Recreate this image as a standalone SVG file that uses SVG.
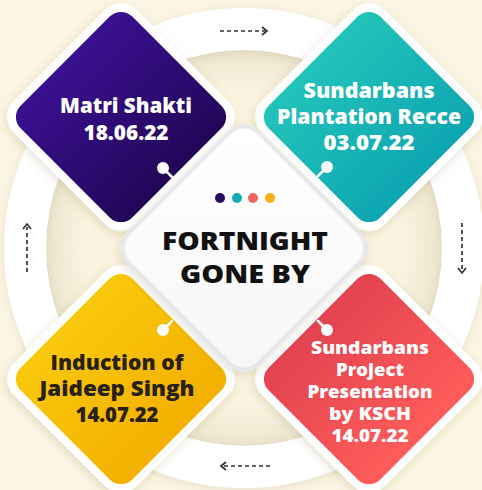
<svg xmlns="http://www.w3.org/2000/svg" width="482" height="490" viewBox="0 0 482 490">
  <defs>
    <filter id="sh" x="-20%" y="-20%" width="140%" height="140%">
      <feDropShadow dx="1" dy="3" stdDeviation="4" flood-color="#6b5a30" flood-opacity="0.18"/>
    </filter>
    <filter id="rs" x="-10%" y="-10%" width="120%" height="120%">
      <feDropShadow dx="0" dy="2" stdDeviation="4" flood-color="#8a7a50" flood-opacity="0.18"/>
    </filter>
    <radialGradient id="inner" cx="0.5" cy="0.5" r="0.5">
      <stop offset="0.8" stop-color="#faf3df"/>
      <stop offset="1" stop-color="#ece5cf"/>
    </radialGradient>
    <linearGradient id="gP" x1="0" y1="0" x2="1" y2="0">
      <stop offset="0" stop-color="#3a1090"/>
      <stop offset="1" stop-color="#220658"/>
    </linearGradient>
    <linearGradient id="gT" x1="0" y1="0" x2="1" y2="0">
      <stop offset="0" stop-color="#22c3b9"/>
      <stop offset="1" stop-color="#0ea6b2"/>
    </linearGradient>
    <linearGradient id="gY" x1="0" y1="0" x2="1" y2="0">
      <stop offset="0" stop-color="#fac80a"/>
      <stop offset="1" stop-color="#f3b000"/>
    </linearGradient>
    <linearGradient id="gR" x1="0" y1="0" x2="1" y2="0">
      <stop offset="0" stop-color="#e24350"/>
      <stop offset="1" stop-color="#ff5c5a"/>
    </linearGradient>
    <linearGradient id="gC" x1="0" y1="0" x2="1" y2="1">
      <stop offset="0" stop-color="#ffffff"/>
      <stop offset="1" stop-color="#f6f6f6"/>
    </linearGradient>
  </defs>
  <style>
    .t { font-family: "Open Sans", "Liberation Sans", sans-serif; font-weight: 800; text-anchor: middle; }
    .w { fill: #ffffff; }
    .d { fill: #2a2116; }
    .c { fill: #111111; }
    .border { fill: #ffffff; filter: url(#sh); }
    .dot { fill: #ffffff; }
    .stem { stroke: #ffffff; stroke-width: 2.5; stroke-linecap: round; }
    .arr { fill: none; stroke: #333333; stroke-width: 1.7; }
    .dash { stroke-dasharray: 4 3; }
  </style>

  <rect width="482" height="490" fill="#fbf5e3"/>
  <circle cx="244" cy="248" r="198" fill="url(#inner)"/>
  <circle cx="244" cy="248" r="219" fill="none" stroke="#ffffff" stroke-width="42" filter="url(#rs)"/>

  <g id="connectors">
    <path class="arr dash" d="M220,31 H265"/>
    <polyline class="arr" points="262,27 267,31 262,35"/>
    <path class="arr dash" d="M462,223 V270"/>
    <polyline class="arr" points="458,268 462,273 466,268"/>
    <path class="arr dash" d="M270,466 H223"/>
    <polyline class="arr" points="226,462 221,466 226,470"/>
    <path class="arr dash" d="M27,272 V227"/>
    <polyline class="arr" points="23,229 27,224 31,229"/>
  </g>

  <g id="node-matri">
    <rect class="border" x="34" y="30" width="174" height="174" rx="22" transform="rotate(45 121 117)"/>
    <rect x="42" y="38" width="158" height="158" rx="16" fill="url(#gP)" transform="rotate(45 121 117)"/>
    <text class="t w" x="126" y="113" font-size="21" textLength="132" lengthAdjust="spacingAndGlyphs">Matri Shakti</text>
    <text class="t w" x="126" y="140" font-size="21" textLength="85" lengthAdjust="spacingAndGlyphs">18.06.22</text>
    <line class="stem" x1="163" y1="168" x2="172" y2="177"/>
    <circle class="dot" cx="163" cy="168" r="6"/>
  </g>

  <g id="node-recce">
    <rect class="border" x="282" y="30" width="174" height="174" rx="22" transform="rotate(45 369 117)"/>
    <rect x="290" y="38" width="158" height="158" rx="16" fill="url(#gT)" transform="rotate(45 369 117)"/>
    <text class="t w" x="369" y="98" font-size="21" textLength="131" lengthAdjust="spacingAndGlyphs">Sundarbans</text>
    <text class="t w" x="369" y="124" font-size="21" textLength="184" lengthAdjust="spacingAndGlyphs">Plantation Recce</text>
    <text class="t w" x="369" y="150" font-size="21" textLength="91" lengthAdjust="spacingAndGlyphs">03.07.22</text>
    <line class="stem" x1="327" y1="167" x2="318" y2="176"/>
    <circle class="dot" cx="327" cy="167" r="6"/>
  </g>

  <g id="node-induction">
    <rect class="border" x="34" y="292" width="174" height="174" rx="22" transform="rotate(45 121 379)"/>
    <rect x="42" y="300" width="158" height="158" rx="16" fill="url(#gY)" transform="rotate(45 121 379)"/>
    <text class="t d" x="117" y="370" font-size="21" textLength="133" lengthAdjust="spacingAndGlyphs">Induction of</text>
    <text class="t d" x="117" y="396" font-size="21" textLength="155" lengthAdjust="spacingAndGlyphs">Jaideep Singh</text>
    <text class="t d" x="117" y="422" font-size="21" textLength="83" lengthAdjust="spacingAndGlyphs">14.07.22</text>
    <line class="stem" x1="163" y1="330" x2="172" y2="321"/>
    <circle class="dot" cx="163" cy="330" r="6"/>
  </g>

  <g id="node-presentation">
    <rect class="border" x="282" y="292" width="174" height="174" rx="22" transform="rotate(45 369 379)"/>
    <rect x="290" y="300" width="158" height="158" rx="16" fill="url(#gR)" transform="rotate(45 369 379)"/>
    <text class="t w" x="370" y="354" font-size="18" textLength="118" lengthAdjust="spacingAndGlyphs">Sundarbans</text>
    <text class="t w" x="370" y="376" font-size="18" textLength="68" lengthAdjust="spacingAndGlyphs">Project</text>
    <text class="t w" x="370" y="398" font-size="18" textLength="125" lengthAdjust="spacingAndGlyphs">Presentation</text>
    <text class="t w" x="370" y="420" font-size="18" textLength="82" lengthAdjust="spacingAndGlyphs">by KSCH</text>
    <text class="t w" x="370" y="442" font-size="18" textLength="77" lengthAdjust="spacingAndGlyphs">14.07.22</text>
    <line class="stem" x1="327" y1="330" x2="318" y2="321"/>
    <circle class="dot" cx="327" cy="330" r="6"/>
  </g>

  <g id="node-center">
    <rect x="150" y="154" width="188" height="188" rx="22" fill="#e8e8ea" filter="url(#sh)" transform="rotate(45 244 248)"/>
    <rect x="154" y="158" width="180" height="180" rx="19" fill="url(#gC)" transform="rotate(45 244 248)"/>
    <circle cx="220" cy="198" r="5" fill="#2a0b5e"/>
    <circle cx="237" cy="198" r="5" fill="#13aab2"/>
    <circle cx="253" cy="198" r="5" fill="#f2645e"/>
    <circle cx="270" cy="198" r="5" fill="#f5b014"/>
    <text class="t c" x="245" y="250" font-size="25" textLength="166" lengthAdjust="spacingAndGlyphs">FORTNIGHT</text>
    <text class="t c" x="245" y="283" font-size="25" textLength="130" lengthAdjust="spacingAndGlyphs">GONE BY</text>
  </g>
</svg>
